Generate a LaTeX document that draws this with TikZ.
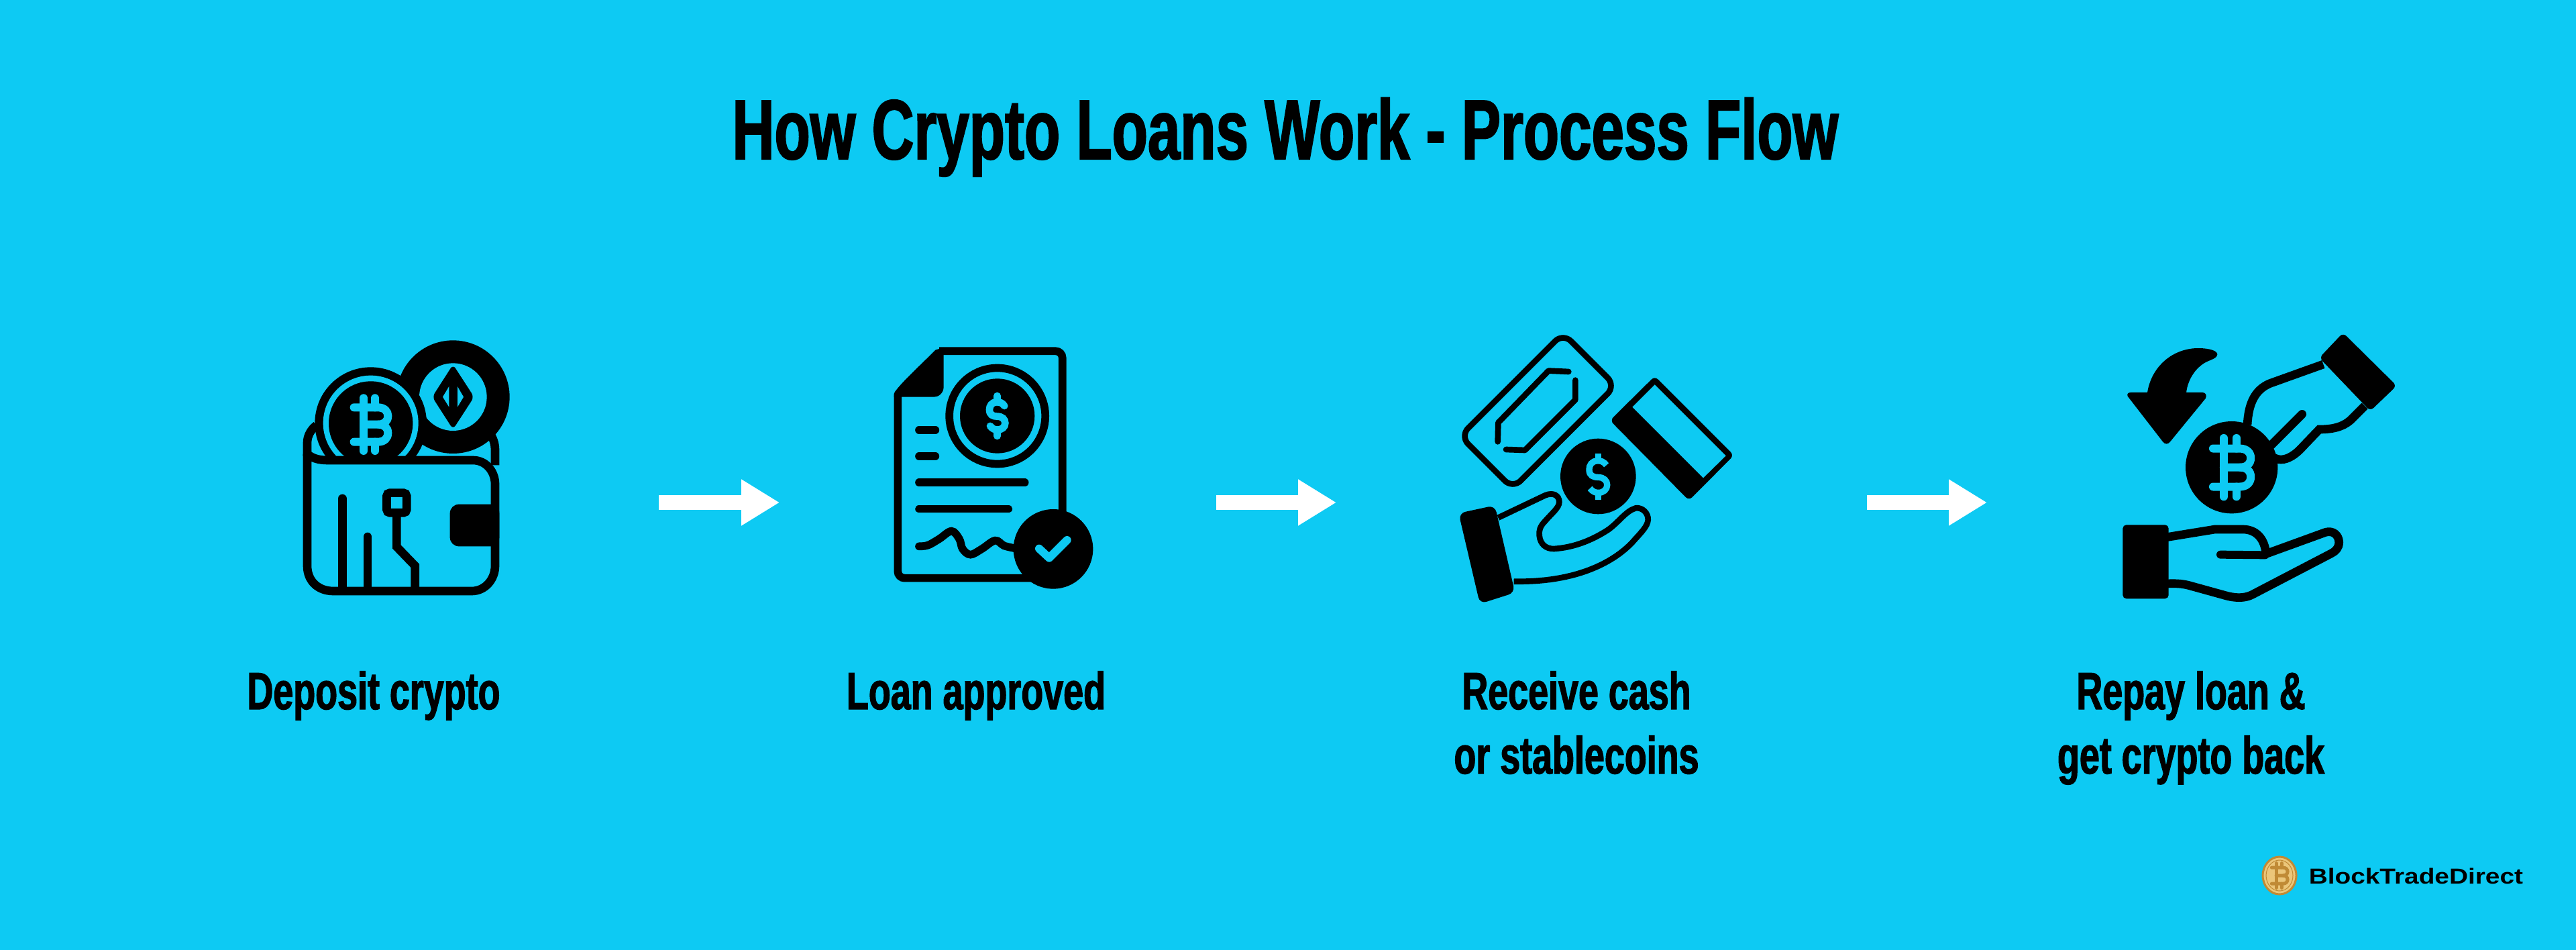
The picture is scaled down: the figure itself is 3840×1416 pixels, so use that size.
\documentclass[tikz,border=0pt]{standalone}
\usepackage{fontspec}
\usetikzlibrary{arrows.meta}
\newfontfamily\dinfont[FakeStretch=0.69,BoldFeatures={FakeBold=1.6}]{Liberation Sans}
\newfontfamily\markfont[FakeStretch=1.2]{Liberation Sans}
\definecolor{skyback}{HTML}{0DCAF3}
\definecolor{coingold}{HTML}{EBC67A}
\definecolor{coinedge}{HTML}{C08A35}
\tikzset{
  zw/.style={line width=#1*0.03333mm},
  zr/.style={rounded corners=#1*0.03333mm},
  iconbox/.style={inner sep=0pt,minimum width=#1,minimum height=4cm},
  flowarrow/.style={white,line width=0.22cm,-{Triangle[length=0.57cm,width=0.65cm]}},
  stepcap/.style={anchor=base,align=center,inner sep=0pt,font=\dinfont\bfseries\fontsize{22.2}{27.3}\selectfont},
  btcmark/.pic={
    \draw (-75,-76) -- (32,-76) .. controls (62,-76) and (77,-58) .. (77,-38) .. controls (77,-15) and (60,0) .. (35,0) -- (-32,0);
    \draw (35,0) .. controls (60,0) and (77,15) .. (77,38) .. controls (77,60) and (62,78) .. (32,78) -- (-75,78);
    \draw (-32,-76) -- (-32,78);
    \draw (-32,-118) -- (-32,-76);
    \draw (19,-118) -- (19,-76);
    \draw (-32,118) -- (-32,78);
    \draw (19,118) -- (19,78);
  },
  dollarmark/.pic={
    \draw (32,-45) .. controls (20,-60) and (12,-62) .. (-2,-62) .. controls (-25,-62) and (-35,-45) .. (-35,-28) .. controls (-35,-5) and (-20,2) .. (0,2) .. controls (22,2) and (35,15) .. (35,32) .. controls (35,50) and (20,62) .. (0,62) .. controls (-12,62) and (-22,57) .. (-32,45);
    \draw (0,-90) -- (0,-62);
    \draw (0,90) -- (0,62);
  }
}
\begin{document}
\begin{tikzpicture}[x=0.01cm,y=-0.01cm]
  \useasboundingbox (0,0) rectangle (3840,1416);
  \fill [skyback] (0,0) rectangle (3840,1416);

  \node [anchor=base,inner sep=0pt,font=\dinfont\bfseries\fontsize{35.9}{40}\selectfont] (title) at (1916,237) {How Crypto Loans Work - Process Flow};

  % wallet
  \begin{scope}[shift={(400,480)},scale=1/3]
    \draw [zw=38] (174,600) -- (174,540) .. controls (174,510) and (190,480) .. (215,462);
    \draw [zw=38] (1014,640) -- (1014,570) .. controls (1014,550) and (1008,525) .. (995,505);
    \fill (826,335) circle (253);
    \fill [skyback] (826,335) circle (151);
    \fill [zr=20] (826,190) -- (920,335) -- (826,480) -- (733,335) -- cycle;
    \fill [skyback] (808,288) -- (780,335) -- (808,380) -- cycle;
    \fill [skyback] (846,288) -- (873,335) -- (846,380) -- cycle;
    \begin{scope}
      \clip (100,0) rectangle (1100,610);
      \fill (458,452) circle (250);
      \fill [skyback] (458,452) circle (213);
      \fill (458,453) circle (188);
      \pic [color=skyback,zw=36,line cap=round,scale=1/3] at (458,458) {btcmark};
    \end{scope}
    \draw [zw=38] (174,590) -- (174,1090) .. controls (174,1160) and (225,1203) .. (290,1203) -- (910,1203) .. controls (970,1203) and (1014,1150) .. (1014,1090) -- (1014,725) .. controls (1014,670) and (975,618) .. (915,618) -- (270,618) .. controls (230,618) and (200,612) .. (174,590);
    \fill [zr=40] (812,815) rectangle (1033,1003);
    \fill (900,815) rectangle (1033,1003);
    \draw [zw=38,line cap=round] (331,789) -- (331,1195);
    \draw [zw=38,line cap=round] (444,960) -- (444,1195);
    \draw [zw=38,zr=14] (529.5,764) rectangle (618.5,853);
    \draw [zw=38] (574,853) -- (574,1005) -- (656,1090) -- (656,1203);
  \end{scope}

  % loan document
  \begin{scope}[shift={(1300,490)},scale=1/3]
    \draw [zw=35,zr=30] (300,100) -- (851,100) -- (851,830);
    \draw [zw=35,zr=30] (115,290) -- (115,1115) -- (720,1115);
    \fill (283,95) -- (320,84) -- (320,260) .. controls (320,285) and (300,305) .. (278,305) -- (98,305) -- (100,285) .. controls (130,240) and (230,150) .. (283,95) -- cycle;
    \draw [zw=35] (560,390) circle (214.5);
    \fill (560,390) circle (167);
    \pic [color=skyback,zw=32,line cap=round,scale=1/3] at (560,390) {dollarmark};
    \draw [zw=35,line cap=round] (210,453) -- (283,453);
    \draw [zw=35,line cap=round] (210,570) -- (283,570);
    \draw [zw=35,line cap=round] (210,688) -- (683,688);
    \draw [zw=35,line cap=round] (210,806) -- (610,806);
    \draw [zw=35,line cap=round] plot [smooth,tension=0.6] coordinates {(210,973) (250,968) (300,940) (355,905) (390,940) (405,985) (440,1010) (490,985) (550,947) (590,970) (640,982)};
    \fill (810,985) circle (178);
    \draw [skyback,zw=36,line cap=round,line join=round] (747,983) -- (792,1025) -- (872,945);
  \end{scope}

  % cash and card
  \begin{scope}[shift={(2140,470)},scale=1/3]
    \draw [zw=26,zr=50] (570,80) -- (805,315) -- (345,775) -- (110,540) -- cycle;
    \draw [zw=26,line cap=round,line join=round] (595,252) -- (505,248) -- (280,480) -- (278,565);
    \draw [zw=26,line cap=round,line join=round] (315,600) -- (400,603) -- (625,378) -- (625,290);
    \fill [zr=20] (980,272) -- (1334,626) -- (1133,828) -- (780,470) -- cycle;
    \fill [skyback] (980,310) -- (1298,628) -- (1197,727) -- (880,410) -- cycle;
    \fill (727,720) circle (169);
    \pic [color=skyback,zw=28,scale=1.15/3] at (727,722) {dollarmark};
    \draw [zw=26] (280,905) -- (490,805) .. controls (525,790) and (553,805) .. (553,835) .. controls (553,860) and (520,885) .. (490,920) .. controls (465,945) and (462,965) .. (464,985) .. controls (468,1025) and (495,1045) .. (530,1044) .. controls (620,1038) and (700,1005) .. (770,960) .. controls (820,925) and (850,875) .. (895,862) .. controls (925,858) and (952,885) .. (950,915) .. controls (948,945) and (915,975) .. (880,1015) .. controls (790,1110) and (620,1195) .. (350,1190);
    \fill [zr=30] (103,885) -- (265,850) -- (355,1240) -- (198,1290) -- cycle;
  \end{scope}

  % repay
  \begin{scope}[shift={(3120,470)},scale=1/3]
    \fill (155,362) .. controls (150,350) and (158,345) .. (170,345) -- (243,345) .. controls (262,225) and (360,147) .. (470,147) .. controls (520,147) and (556,158) .. (556,175) .. controls (556,190) and (530,198) .. (510,207) .. controls (465,228) and (425,280) .. (417,345) -- (490,345) .. controls (505,345) and (510,360) .. (503,372) -- (345,565) .. controls (335,578) and (322,578) .. (312,565) -- cycle;
    \fill [zr=20] (1012,190) -- (1118,78) -- (1358,315) -- (1240,428) -- cycle;
    \draw [zw=38] (1030,219) -- (790,305) .. controls (720,335) and (695,400) .. (690,490);
    \draw [zw=38,line cap=round] (935,442) -- (795,582);
    \draw [zw=38] (1215,405) -- (1150,470) .. controls (1115,500) and (1070,510) .. (1012,510) -- (940,585) .. controls (905,625) and (870,645) .. (840,645) .. controls (825,645) and (815,640) .. (800,632);
    \fill (620,680) circle (206);
    \pic [color=skyback,zw=36,line cap=round,scale=1.11/3] at (620,680) {btcmark};
    \draw [zw=38] (330,992) -- (545,957) -- (670,957) .. controls (730,957) and (765,1000) .. (772,1055);
    \draw [zw=36,line cap=round] (570,1070) -- (770,1072);
    \draw [zw=38,line join=round] (770,1068) -- (1040,970) .. controls (1075,960) and (1100,985) .. (1100,1015) .. controls (1100,1040) and (1085,1055) .. (1065,1065) -- (710,1250) .. controls (680,1265) and (640,1265) .. (600,1255) -- (430,1208) .. controls (400,1200) and (370,1198) .. (330,1200);
    \fill [zr=16] (133,937) rectangle (338,1267);
  \end{scope}

  % icon boxes and flow arrows
  \node [iconbox=2.93cm] (wallet) at (598,749) {};
  \node [iconbox=2.98cm] (loan) at (1481,749) {};
  \node [iconbox=4.10cm] (cash) at (2380,749) {};
  \node [iconbox=4.10cm] (repay) at (3365,749) {};
  \draw [flowarrow,shorten <=2.37cm,shorten >=1.69cm] (wallet.east) -- (loan.west);
  \draw [flowarrow,shorten <=1.82cm,shorten >=1.82cm] (loan.east) -- (cash.west);
  \draw [flowarrow,shorten <=1.97cm,shorten >=1.97cm] (cash.east) -- (repay.west);

  \node [stepcap] (depositcap) at (557,1057) {Deposit crypto};
  \node [stepcap] (loancap) at (1455,1057) {Loan approved};
  \node [stepcap] (cashcap) at (2350,1153) {Receive cash\\or stablecoins};
  \node [stepcap] (repaycap) at (3266,1153) {Repay loan \&\\get crypto back};

  % watermark
  \draw [fill=coingold,draw=coinedge,line width=0.03cm] (3398,1305) ellipse (25 and 28);
  \draw [coinedge,line width=0.01cm] (3398,1305) ellipse (20 and 23);
  \pic [color=coinedge,line width=0.05cm,line cap=round,scale=0.156] at (3398,1305) {btcmark};
  \node [anchor=base west,inner sep=0pt,font=\markfont\bfseries\fontsize{9.2}{11}\selectfont] (brand) at (3441,1317) {BlockTradeDirect};
\end{tikzpicture}
\end{document}
